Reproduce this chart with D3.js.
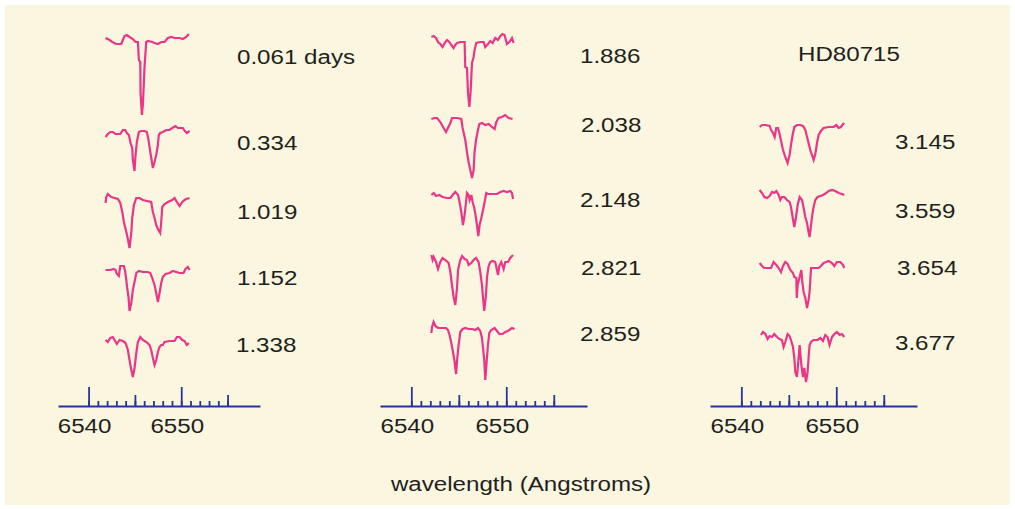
<!DOCTYPE html>
<html>
<head>
<meta charset="utf-8">
<script src="https://cdn.jsdelivr.net/npm/d3@7"></script>
<style>
  body { margin: 0; background: #fff; }
  svg { display: block; }
  text { font-family: "Liberation Sans", Arial, Helvetica, sans-serif; fill: #231f20; }
</style>
</head>
<body>
<svg id="chart"></svg>
<script>
// spectra: [wavelength (A), relative flux]
const s0061 = [[6541.83,1.02],[6542.27,1.00],[6542.56,0.98],[6542.99,0.96],[6543.53,0.96],[6543.70,1.00],[6543.88,1.04],[6544.13,1.05],[6544.42,1.03],[6544.78,1.01],[6545.07,0.98],[6545.32,0.98],[6545.43,0.80],[6545.58,0.78],[6545.61,0.47],[6545.75,0.25],[6545.86,0.35],[6546.04,0.73],[6546.22,0.98],[6546.40,0.99],[6546.87,0.98],[6547.12,0.97],[6547.48,0.96],[6547.85,0.98],[6548.20,0.98],[6548.55,1.02],[6548.92,1.03],[6549.28,1.02],[6549.82,1.02],[6550.17,1.01],[6550.54,1.03],[6550.82,1.06]]
const s0334 = [[6541.83,0.96],[6542.08,0.99],[6542.34,1.01],[6542.62,1.01],[6542.91,0.99],[6543.42,0.99],[6543.70,1.03],[6543.96,1.03],[6544.13,1.00],[6544.35,0.98],[6544.53,0.90],[6544.71,0.85],[6544.78,0.73],[6544.96,0.62],[6545.07,0.78],[6545.21,0.91],[6545.43,1.01],[6545.68,1.02],[6546.04,1.02],[6546.29,1.01],[6546.47,0.93],[6546.66,0.81],[6546.80,0.73],[6546.94,0.65],[6547.12,0.71],[6547.30,0.78],[6547.48,0.88],[6547.58,0.98],[6547.73,1.00],[6548.01,1.01],[6548.38,1.03],[6548.74,1.03],[6549.03,1.05],[6549.38,1.07],[6549.63,1.05],[6549.89,1.05],[6550.17,1.05],[6550.39,1.02],[6550.60,1.00],[6550.90,1.02]]
const s1019 = [[6541.83,0.96],[6541.91,1.02],[6542.08,1.05],[6542.45,1.02],[6542.80,1.01],[6543.16,1.00],[6543.42,0.96],[6543.64,0.87],[6543.81,0.77],[6544.07,0.67],[6544.24,0.60],[6544.42,0.51],[6544.61,0.66],[6544.71,0.81],[6544.89,0.94],[6545.15,1.01],[6545.50,1.01],[6545.86,0.99],[6546.29,0.98],[6546.76,0.97],[6546.94,0.87],[6547.12,0.81],[6547.30,0.74],[6547.48,0.70],[6547.73,0.66],[6547.84,0.77],[6547.95,0.92],[6548.20,0.95],[6548.55,0.97],[6549.03,0.99],[6549.28,1.01],[6549.53,0.97],[6549.82,0.93],[6550.11,0.97],[6550.36,0.99],[6550.54,1.00],[6550.90,1.01]]
const s1152 = [[6541.83,1.01],[6542.34,1.01],[6542.70,1.02],[6542.91,1.01],[6543.05,0.97],[6543.27,0.95],[6543.42,1.05],[6543.81,1.05],[6543.96,0.99],[6544.07,0.91],[6544.17,0.83],[6544.31,0.74],[6544.42,0.60],[6544.61,0.68],[6544.78,0.81],[6544.96,0.89],[6545.15,0.98],[6545.43,1.00],[6545.86,0.99],[6546.40,0.99],[6546.66,0.98],[6546.87,0.93],[6547.12,0.86],[6547.30,0.78],[6547.48,0.69],[6547.66,0.78],[6547.84,0.88],[6548.01,0.94],[6548.31,0.97],[6548.74,0.98],[6549.09,1.00],[6549.46,0.99],[6549.82,0.98],[6550.25,0.98],[6550.46,1.02],[6550.71,1.04],[6550.90,1.01]]
const s1338 = [[6541.83,1.00],[6542.08,0.98],[6542.34,1.02],[6542.62,1.03],[6542.80,1.00],[6543.05,0.96],[6543.34,1.00],[6543.70,0.99],[6543.99,0.97],[6544.24,0.90],[6544.42,0.80],[6544.61,0.70],[6544.78,0.63],[6544.96,0.72],[6545.15,0.87],[6545.32,0.98],[6545.58,1.03],[6545.86,1.00],[6546.22,0.98],[6546.58,0.95],[6546.76,0.90],[6546.94,0.82],[6547.12,0.75],[6547.30,0.80],[6547.48,0.88],[6547.66,0.93],[6547.84,0.95],[6548.01,0.95],[6548.20,0.98],[6548.74,0.99],[6549.28,0.99],[6549.53,1.03],[6549.82,1.03],[6550.11,1.00],[6550.36,0.99],[6550.60,0.95],[6550.82,0.97]]
const s1886 = [[6542.11,1.05],[6542.35,1.06],[6542.60,1.04],[6542.81,1.00],[6543.05,0.98],[6543.29,0.95],[6543.51,0.99],[6543.76,1.02],[6544.00,1.00],[6544.21,0.97],[6544.45,0.94],[6544.63,0.97],[6544.81,0.99],[6545.16,1.00],[6545.61,1.00],[6545.68,0.75],[6545.86,0.74],[6545.97,0.49],[6546.11,0.35],[6546.24,0.50],[6546.39,0.79],[6546.56,0.85],[6546.66,0.92],[6546.84,0.99],[6547.26,1.00],[6547.61,1.00],[6547.79,0.95],[6548.07,0.98],[6548.32,1.01],[6548.56,0.99],[6548.84,1.04],[6549.13,1.02],[6549.37,1.06],[6549.61,1.08],[6549.82,1.07],[6550.07,0.98],[6550.32,1.00],[6550.60,1.04],[6550.77,0.99]]
const s2038 = [[6542.11,1.01],[6542.45,1.02],[6542.71,1.02],[6543.05,0.98],[6543.40,0.92],[6543.65,0.88],[6543.86,0.92],[6544.11,0.97],[6544.28,1.02],[6544.81,1.02],[6545.26,1.01],[6545.40,0.92],[6545.68,0.80],[6545.86,0.68],[6546.03,0.58],[6546.21,0.50],[6546.39,0.42],[6546.56,0.50],[6546.66,0.68],[6546.81,0.80],[6547.02,0.90],[6547.16,0.96],[6547.44,0.97],[6547.79,0.95],[6548.14,0.96],[6548.49,0.93],[6548.77,0.91],[6548.95,0.98],[6549.19,1.02],[6549.55,1.03],[6549.89,1.05],[6550.24,1.02],[6550.66,1.01]]
const s2148 = [[6542.11,1.00],[6542.35,1.02],[6542.60,0.99],[6542.95,1.00],[6543.29,0.98],[6543.76,0.97],[6544.11,0.97],[6544.35,1.00],[6544.63,1.03],[6544.92,1.00],[6545.08,0.93],[6545.26,0.83],[6545.44,0.70],[6545.61,0.80],[6545.76,0.93],[6545.86,1.02],[6546.03,1.00],[6546.14,0.95],[6546.32,1.00],[6546.45,0.93],[6546.63,0.87],[6546.81,0.77],[6546.95,0.67],[6547.05,0.59],[6547.19,0.70],[6547.37,0.77],[6547.55,0.85],[6547.72,0.93],[6547.89,1.02],[6548.07,1.01],[6548.49,1.01],[6549.02,1.01],[6549.37,1.03],[6549.72,1.04],[6550.07,1.03],[6550.42,1.04],[6550.60,1.02],[6550.71,0.96]]
const s2821 = [[6542.11,1.05],[6542.24,1.00],[6542.35,1.03],[6542.60,0.98],[6542.81,0.91],[6543.05,0.98],[6543.29,1.02],[6543.58,1.00],[6543.93,0.97],[6544.11,0.88],[6544.28,0.75],[6544.45,0.63],[6544.63,0.55],[6544.81,0.72],[6544.92,0.90],[6545.16,1.00],[6545.34,1.04],[6545.61,1.01],[6545.86,1.00],[6546.03,0.95],[6546.32,0.97],[6546.56,1.00],[6546.81,1.02],[6547.08,0.98],[6547.26,0.88],[6547.44,0.75],[6547.55,0.62],[6547.68,0.49],[6547.86,0.65],[6547.97,0.83],[6548.14,0.94],[6548.32,0.98],[6548.56,0.99],[6548.84,0.98],[6549.13,0.85],[6549.26,0.94],[6549.47,0.98],[6549.72,0.91],[6549.89,0.98],[6550.18,0.98],[6550.42,1.02],[6550.71,1.05]]
const s2859 = [[6542.11,0.96],[6542.18,1.02],[6542.35,1.07],[6542.53,1.03],[6542.81,1.01],[6543.23,1.01],[6543.65,1.01],[6543.86,0.99],[6544.03,0.94],[6544.21,0.86],[6544.39,0.77],[6544.56,0.67],[6544.71,0.55],[6544.84,0.71],[6544.98,0.84],[6545.16,0.97],[6545.40,1.00],[6545.68,1.01],[6546.03,1.00],[6546.39,1.00],[6546.74,0.99],[6547.02,1.01],[6547.26,0.98],[6547.44,0.91],[6547.55,0.81],[6547.68,0.69],[6547.79,0.49],[6547.93,0.67],[6548.07,0.84],[6548.21,0.96],[6548.42,0.99],[6548.77,1.01],[6549.02,0.98],[6549.26,0.95],[6549.61,0.95],[6549.89,0.97],[6550.18,0.98],[6550.60,1.01],[6550.87,1.00]]
const s3145 = [[6541.93,1.00],[6542.18,1.02],[6542.53,1.02],[6542.98,1.01],[6543.13,0.97],[6543.34,0.94],[6543.51,0.90],[6543.68,0.99],[6543.86,0.99],[6544.03,0.93],[6544.21,0.85],[6544.39,0.77],[6544.63,0.70],[6544.87,0.64],[6545.08,0.72],[6545.23,0.82],[6545.40,0.92],[6545.58,1.00],[6545.86,1.02],[6546.21,1.02],[6546.49,1.01],[6546.74,0.97],[6546.92,0.90],[6547.08,0.84],[6547.26,0.77],[6547.44,0.72],[6547.61,0.67],[6547.79,0.73],[6547.97,0.84],[6548.14,0.92],[6548.39,0.96],[6548.66,0.99],[6549.19,1.00],[6549.72,1.00],[6550.00,1.02],[6550.24,0.99],[6550.49,1.00],[6550.71,1.03],[6550.84,1.04]]
const s3559 = [[6541.93,1.03],[6542.18,1.00],[6542.42,0.96],[6542.71,0.95],[6542.98,0.97],[6543.23,1.01],[6543.47,1.00],[6543.68,1.02],[6543.93,0.98],[6544.11,0.93],[6544.28,0.96],[6544.53,0.96],[6544.81,0.93],[6545.08,0.91],[6545.23,0.86],[6545.40,0.76],[6545.58,0.66],[6545.76,0.76],[6545.93,0.88],[6546.14,0.96],[6546.39,0.93],[6546.56,0.85],[6546.74,0.76],[6546.92,0.70],[6547.08,0.61],[6547.19,0.56],[6547.34,0.68],[6547.47,0.78],[6547.61,0.86],[6547.79,0.93],[6548.03,0.96],[6548.32,0.97],[6548.60,0.98],[6548.95,1.00],[6549.19,1.02],[6549.55,1.03],[6549.89,1.02],[6550.24,1.00],[6550.60,0.99],[6550.84,0.98]]
const s3654 = [[6541.93,1.02],[6542.18,0.99],[6542.42,0.97],[6542.77,0.97],[6543.13,0.97],[6543.40,1.03],[6543.68,1.00],[6543.93,0.97],[6544.18,0.93],[6544.39,0.99],[6544.63,1.03],[6544.87,1.01],[6545.16,0.95],[6545.44,0.92],[6545.58,0.88],[6545.79,0.87],[6545.84,0.67],[6545.93,0.80],[6546.14,0.88],[6546.32,0.95],[6546.42,0.83],[6546.56,0.73],[6546.74,0.67],[6546.92,0.57],[6547.08,0.65],[6547.19,0.73],[6547.34,0.97],[6547.61,0.97],[6548.14,0.97],[6548.39,0.99],[6548.66,1.02],[6548.95,1.03],[6549.19,1.04],[6549.55,1.02],[6549.79,0.99],[6550.07,1.03],[6550.42,1.03],[6550.71,1.00],[6550.84,0.97]]
const s3677 = [[6542.07,1.02],[6542.28,1.05],[6542.53,1.03],[6542.77,0.98],[6542.98,1.01],[6543.23,1.00],[6543.47,1.03],[6543.76,1.00],[6544.03,0.98],[6544.28,0.97],[6544.45,0.90],[6544.63,0.95],[6544.87,1.03],[6545.08,1.01],[6545.23,0.97],[6545.44,0.90],[6545.58,0.79],[6545.68,0.65],[6545.86,0.60],[6546.03,0.79],[6546.14,0.92],[6546.32,0.72],[6546.49,0.60],[6546.63,0.69],[6546.81,0.55],[6546.98,0.65],[6547.08,0.79],[6547.19,0.92],[6547.34,0.95],[6547.61,0.97],[6548.03,0.97],[6548.32,0.99],[6548.60,0.96],[6548.84,1.02],[6549.08,1.00],[6549.29,0.92],[6549.55,1.00],[6549.79,1.03],[6550.07,1.05],[6550.35,1.02],[6550.60,1.03],[6550.84,1.00]]

const panel1Labels = ["0.061 days", "0.334", "1.019", "1.152", "1.338"]
const panel2Labels = ["1.886", "2.038", "2.148", "2.821", "2.859"]
const panel3Labels = ["3.145", "3.559", "3.654", "3.677"]
const starName = "HD80715"
const xDomain = [6536.7, 6558.5]
const majorTicks = [6540, 6550]
const mediumTicks = [6545, 6555]
const minorTicks = d3.range(6540, 6556)
const xTitle = "wavelength (Angstroms)"

// layout
const W = 1015, H = 509
const stretch = 1.15 // text in the original is wider than it is tall
const panels = [
  { range: [58, 260], spectra: [s0061, s0334, s1019, s1152, s1338], rows: [40, 133, 199, 271, 340],
    labels: panel1Labels, labelX: [237, 237, 237, 237, 236], labelY: [64, 150, 219, 285, 352] },
  { range: [380, 587], spectra: [s1886, s2038, s2148, s2821, s2859], rows: [42, 120, 195, 260, 329],
    labels: panel2Labels, labelX: [580, 581, 580, 581, 580], labelY: [63, 132, 207, 275, 341] },
  { range: [710, 917], spectra: [s3145, s3559, s3654, s3677], rows: [127, 193, 265, 337],
    labels: panel3Labels, labelX: [895, 895, 897, 895], labelY: [149, 218, 275, 350] }
]
const axisY = 406
const pink = "#ea3589", blue = "#27359a"

const svg = d3.select("#chart").attr("width", W).attr("height", H)

svg.append("rect")
  .attr("x", 5).attr("y", 5)
  .attr("width", W - 10).attr("height", H - 9)
  .attr("fill", "#faf6df")

function addText(x, y, str, anchor) {
  svg.append("text")
    .attr("transform", `translate(${x},${y}) scale(${stretch},1)`)
    .attr("text-anchor", anchor || "start")
    .style("font-size", "21px")
    .text(str)
}

panels.forEach(p => {
  const x = d3.scaleLinear().domain(xDomain).range(p.range)

  p.spectra.forEach((s, i) => {
    const y = d3.scaleLinear().domain([0, 1]).range([p.rows[i] + 100, p.rows[i]])
    const line = d3.line().x(d => x(d[0])).y(d => y(d[1]))
    svg.append("path")
      .attr("d", line(s))
      .attr("fill", "none")
      .attr("stroke", pink)
      .attr("stroke-width", 2.2)
      .attr("stroke-linejoin", "miter")
  })

  p.labels.forEach((l, i) => addText(p.labelX[i], p.labelY[i], l))

  // ticks point upward from the baseline
  const sizes = [[minorTicks, 5], [mediumTicks, 11], [majorTicks, 19]]
  sizes.forEach(([vals, size], k) => {
    const g = svg.append("g")
      .attr("transform", `translate(0,${axisY})`)
      .call(d3.axisTop(x).tickValues(vals).tickSize(size).tickSizeOuter(0).tickFormat(""))
    g.selectAll("line").attr("stroke", blue).attr("stroke-width", 1.8)
    g.select(".domain").attr("stroke", k === 0 ? blue : "none").attr("stroke-width", 2.2)
  })

  majorTicks.forEach(v => addText(x(v) - 4, 433, d3.format("d")(v), "middle"))
})

addText(798, 61, starName)
addText(521, 491, xTitle, "middle")
</script>
</body>
</html>
